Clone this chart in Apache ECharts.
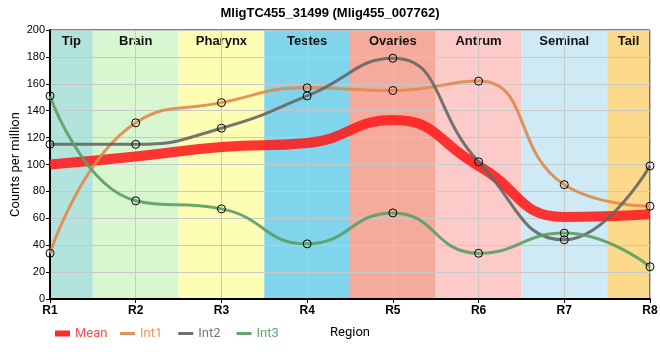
<!DOCTYPE html>
<html><head><meta charset="utf-8">
<script src="https://cdn.jsdelivr.net/npm/echarts@6/dist/echarts.min.js"></script>
<style>html,body{margin:0;padding:0;background:#fff}#c{width:660px;height:360px}</style>
</head><body><div id="c"></div>
<script>
const categories = ['R1','R2','R3','R4','R5','R6','R7','R8'];
const regions = ['Tip','Brain','Pharynx','Testes','Ovaries','Antrum','Seminal','Tail'];
const regionColors = ['#b3e3dd','#d8f6d0','#fdfdb3','#80d4ec','#f5ab9c','#fdcaca','#cdeaf5','#fdd98b'];
const meanValues = [100,106,113,116,133,99,61,63];
const int1Values = [34,131,146,157,155,162,85,69];
const int2Values = [115,115,127,151,179,102,44,99];
const int3Values = [151,73,67,41,64,34,49,24];
const yTicks = [0,20,40,60,80,100,120,140,160,180,200];

const pts = arr => arr.map((v,i)=>[i+1,v]);
const n = categories.length;
const bandData = regions.map((r,i)=>[
  {name:r, xAxis:Math.max(1,i+0.5), itemStyle:{color:regionColors[i]}},
  {xAxis:Math.min(n,i+1.5)}
]);
const font = 'Liberation Sans, Arial, sans-serif';
const marker = {color:'rgba(0,0,0,0)', borderColor:'#000', borderWidth:1};
const mk = (name,data,color) => ({
  name, type:'line', data:pts(data), smooth:0.5, z:3,
  symbol:'circle', symbolSize:8, showSymbol:true,
  lineStyle:{color, width:3, opacity:0.9}, itemStyle:marker, color,
  emphasis:{disabled:true}
});
const chart = echarts.init(document.getElementById('c'));
chart.setOption({
  animation:false,
  textStyle:{fontFamily:font},
  title:{text:'MligTC455_31499 (Mlig455_007762)', left:'center', top:2,
    textStyle:{fontSize:13, fontWeight:'bold', color:'#000', fontFamily:font}},
  grid:{left:50, right:10, top:30, bottom:61, show:true, borderColor:'#000', borderWidth:1, z:2,
    containLabel:false, outerBoundsMode:'none'},
  legend:[
    {data:[{name:'Mean', itemStyle:{color:'#ff2a2a', borderWidth:0}, textStyle:{color:'#ff4a4a'}}],
     icon:'rect', itemWidth:15, itemHeight:6, left:50, top:322, itemGap:12,
     textStyle:{fontSize:13, fontFamily:'Roboto, sans-serif'}},
    {data:[
      {name:'Int1', itemStyle:{color:'#e39154', borderWidth:0}, textStyle:{color:'#e8975c'}},
      {name:'Int2', itemStyle:{color:'#707070', borderWidth:0}, textStyle:{color:'#787878'}},
      {name:'Int3', itemStyle:{color:'#62a86c', borderWidth:0}, textStyle:{color:'#62a86c'}}],
     icon:'rect', itemWidth:15, itemHeight:3, left:115, top:322, itemGap:16,
     textStyle:{fontSize:13, fontFamily:'Roboto, sans-serif'}}
  ],
  xAxis:{type:'value', min:1, max:n, interval:1, z:2,
    name:'Region', nameLocation:'middle', nameGap:27, nameMoveOverlap:false,
    nameTextStyle:{fontSize:13, color:'#000', fontFamily:'Roboto, sans-serif'},
    axisLine:{lineStyle:{color:'#000', width:2}},
    axisTick:{show:true, length:4, lineStyle:{color:'#000'}},
    axisLabel:{formatter:v=>categories[v-1]||'', fontWeight:'bold', fontSize:12, color:'#000', margin:6},
    splitLine:{show:true, lineStyle:{color:'#c8c8c8'}}},
  yAxis:{type:'value', min:yTicks[0], max:yTicks[yTicks.length-1], interval:20, z:2,
    name:'Counts per million', nameLocation:'middle', nameGap:28, nameMoveOverlap:false,
    nameTextStyle:{fontSize:13, color:'#000', fontFamily:'Roboto, sans-serif'},
    axisLine:{show:true, lineStyle:{color:'#000', width:2}},
    axisTick:{show:true, length:4, lineStyle:{color:'#000'}},
    axisLabel:{fontSize:11, color:'#000', margin:5},
    splitLine:{show:true, lineStyle:{color:'#c8c8c8'}}},
  series:[
    {name:'bands', type:'line', data:[], z:1, silent:true,
     markArea:{silent:true, data:bandData,
       label:{show:true, position:'insideTop', distance:5, fontWeight:'bold', fontSize:13, color:'#111', fontFamily:font}}},
    {name:'Mean', type:'line', data:pts(meanValues), smooth:0.5, z:3, showSymbol:false, symbol:'none',
     lineStyle:{color:'#ff1a1a', width:10, opacity:0.88}, color:'#ff2a2a', emphasis:{disabled:true}},
    mk('Int1', int1Values, '#e08a4b'),
    mk('Int2', int2Values, '#666666'),
    mk('Int3', int3Values, '#5a9e62')
  ]
});
</script></body></html>
